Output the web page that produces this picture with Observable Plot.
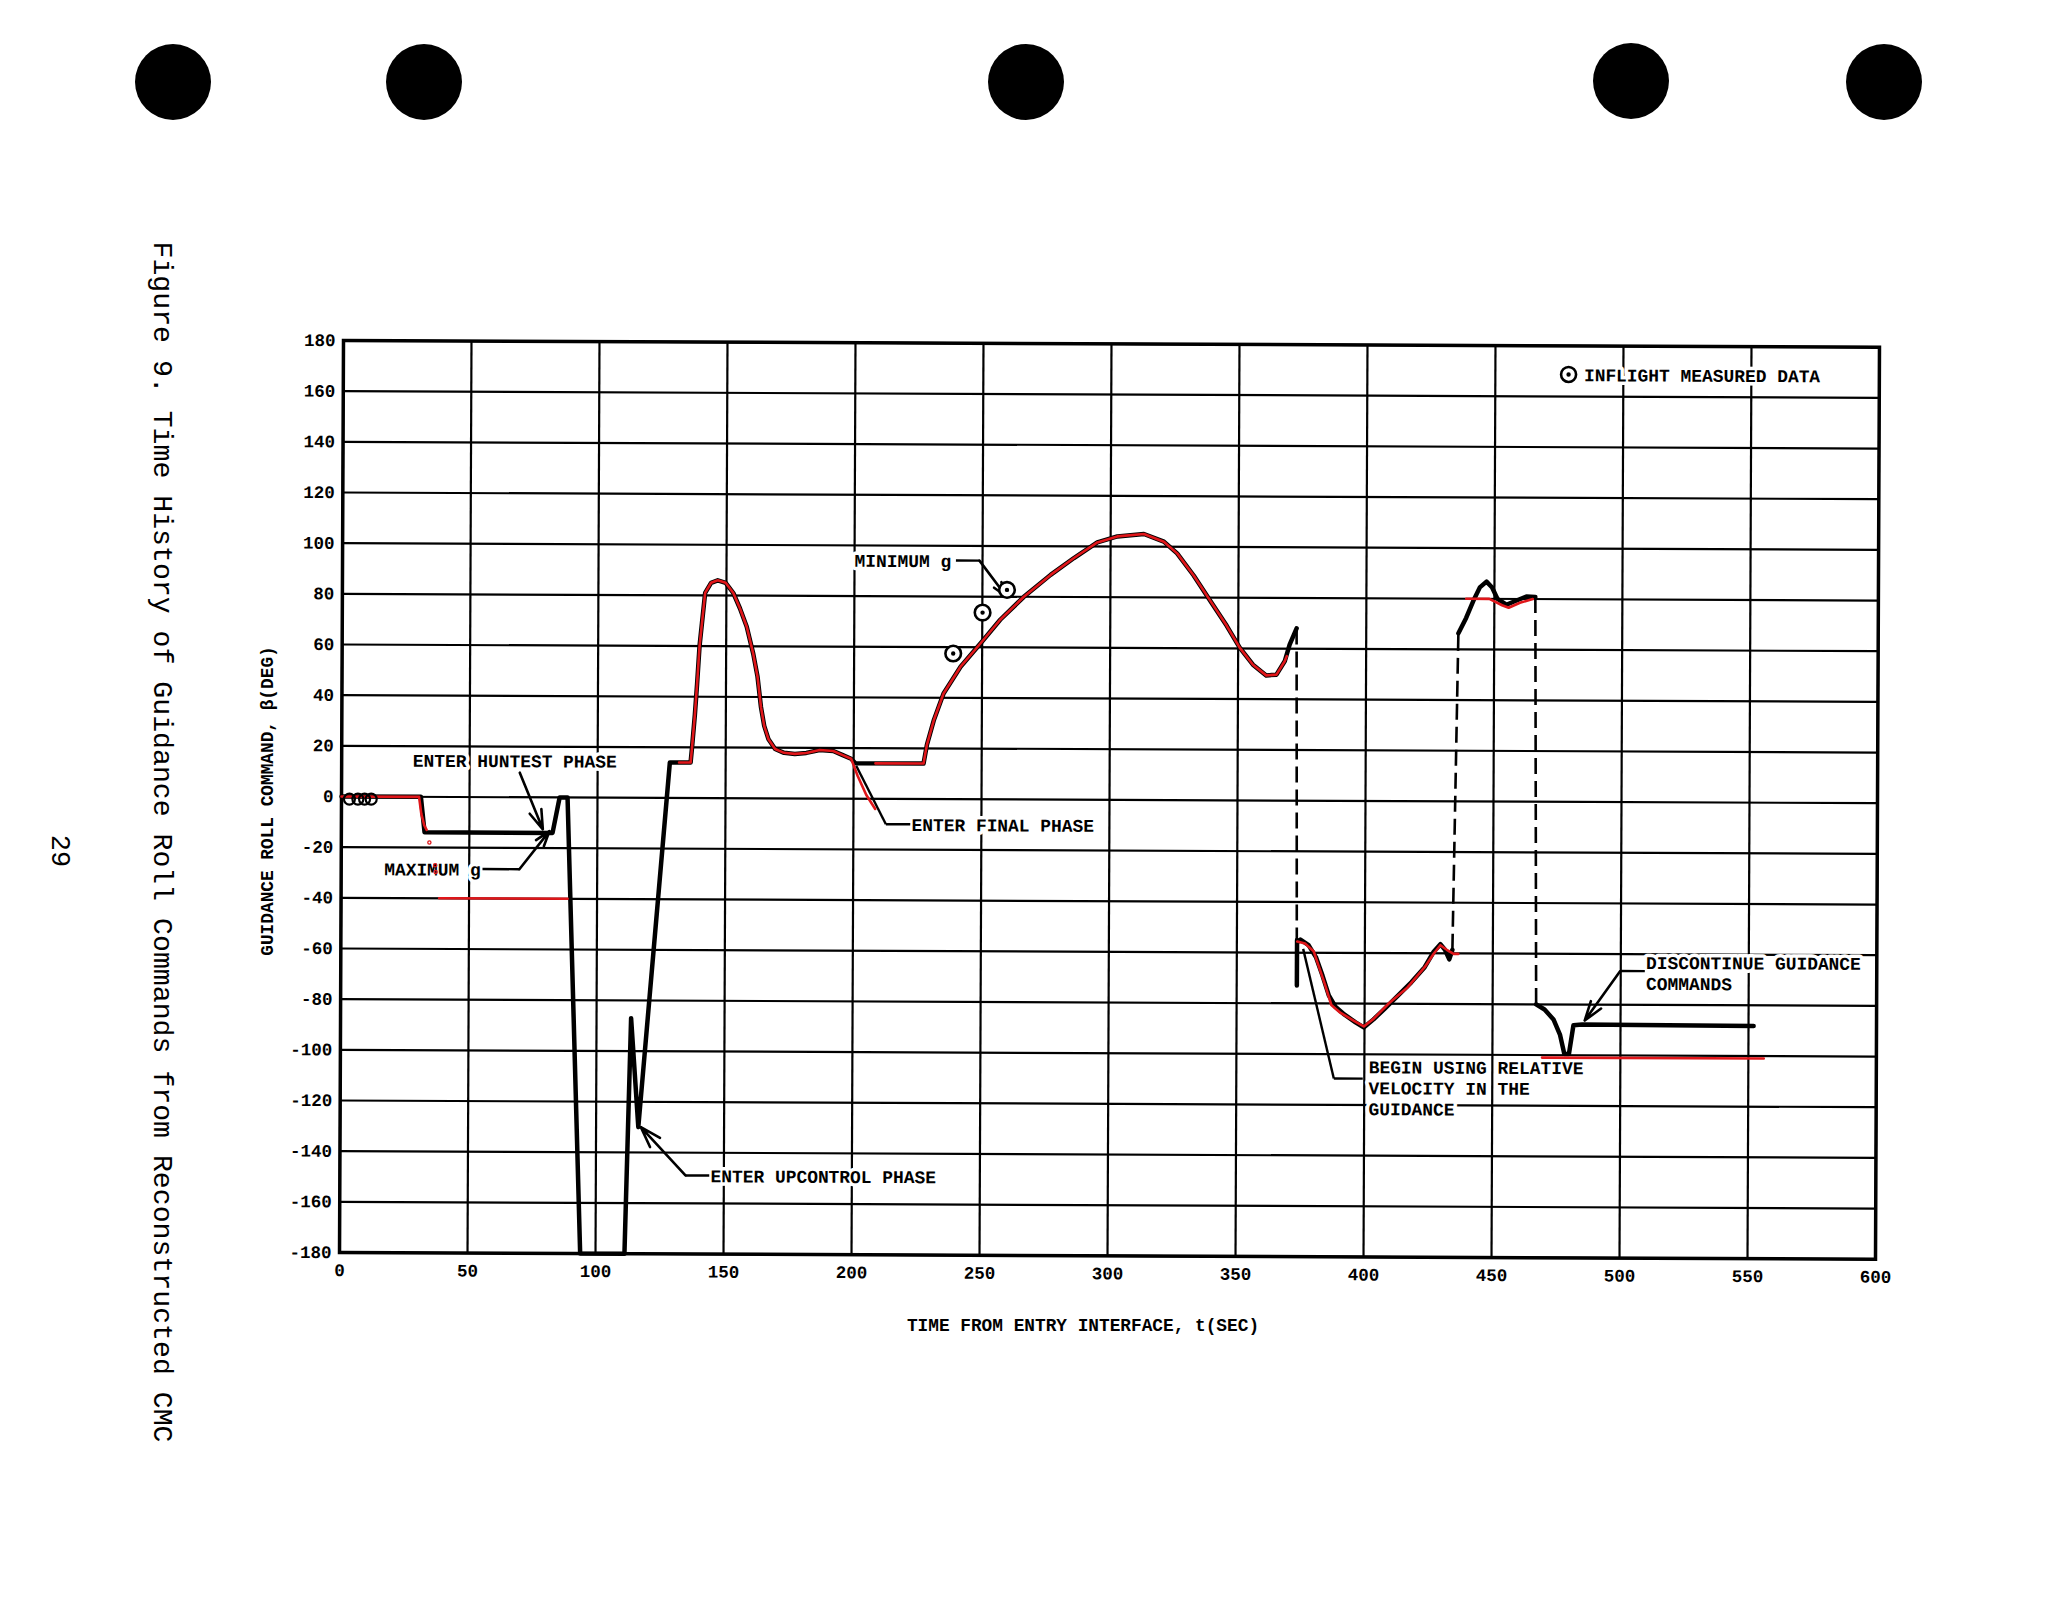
<!DOCTYPE html>
<html>
<head>
<meta charset="utf-8">
<script src="https://cdn.jsdelivr.net/npm/d3@7"></script>
<script src="https://cdn.jsdelivr.net/npm/@observablehq/plot@0.6"></script>
<style>
  html, body { margin: 0; padding: 0; background: #fff; }
  #page { position: relative; width: 2069px; height: 1600px; overflow: hidden; background: #fff;
          font-family: "Liberation Mono", "DejaVu Sans Mono", monospace; color: #000; }
  #page svg { position: absolute; left: 0; top: 0; }
  .hole { position: absolute; width: 76px; height: 76px; border-radius: 50%; background: #000; transform: translate(-50%, -50%); }
  .rot { position: absolute; white-space: nowrap; transform: translate(-50%, -50%) rotate(90deg); }
  .rotl { position: absolute; white-space: nowrap; transform: translate(-50%, -50%) rotate(-90deg); }
  .lbl { position: absolute; white-space: nowrap; transform: translate(-50%, -50%); }
</style>
</head>
<body>
<div id="page"></div>
<script>
// ---------------- data ----------------
const xTicks = [0, 50, 100, 150, 200, 250, 300, 350, 400, 450, 500, 550, 600];
const yTicks = [-180, -160, -140, -120, -100, -80, -60, -40, -20, 0, 20, 40, 60, 80, 100, 120, 140, 160, 180];

// Guidance roll command from reconstructed CMC (black); null separates pieces
const cmcTime = [
  0, 31, 32.5, 82.5, 85.2, 88.3, 94, 111.3, 113.5, 116.5, 128.2, 136.3, 136.8, 137.9, 138.7, 139.6, 140.5, 141.7,
  144, 146.6, 149.7, 152.7, 155.3, 158, 160.6, 162.3, 163.7, 165, 166.7, 169.3, 172.8, 177, 181.5, 186.7, 192,
  195.5, 199, 200.7, 227.3, 228.6, 231.2, 235, 241.6, 249.4, 257, 266.2, 276.6, 285.7, 294.8, 302.6, 313, 320.8,
  326, 332.5, 339, 345.5, 350.6, 355.8, 361, 365, 368.2, 370.1, 372.8,
  null,
  373.5, 373.5,
  null,
  373.6, 374.8, 378, 380.9, 383.5, 386, 388.7, 392.2, 396.5, 399.7, 403.5, 407.8, 413, 418.2, 423.4, 426.9, 429.5,
  431.3, 433, 434.2,
  null,
  436, 439, 441.7, 444.3, 446.9, 449.1, 451.2, 454.7, 458.2, 462.5, 466,
  null,
  467, 470.3, 473.8, 476.4, 478.1, 479.9, 481.6, 485, 552
];
const cmcRoll = [
  0, 0, -14, -14, 0, 0, -180, -180, -87, -130, 14, 14, 19.5, 33, 45, 60, 69, 81,
  85, 86, 85, 81, 75, 67.7, 57, 48, 36, 28.6, 23.3, 19.5, 18, 17.6, 18, 19.2, 18.8,
  17.3, 15.8, 14, 14, 21.5, 31, 41.7, 52.3, 61.6, 70.9, 80, 88.7, 95.4, 101.6, 104, 105, 102,
  97.4, 88.7, 78.8, 68.9, 60.3, 53.6, 49.4, 49.7, 55, 61.6, 68,
  null,
  -55, -73,
  null,
  -56, -54.8, -57, -61.7, -69, -76.8, -81.4, -84.4, -87.4, -89.4, -86.2, -82, -76.8, -71.5, -65.5, -59.4, -56.4,
  -58.6, -62.4, -58.6,
  null,
  66.4, 72.4, 79, 84.5, 86.8, 84.5, 80, 77.7, 79.2, 81, 80.8,
  null,
  -80, -82, -85.9, -92, -99.5, -99.5, -88.2, -87.9, -88.2
];

// dashed jumps between pieces
const jumpFromTime = [372.8, 434.2, 466];
const jumpFromRoll = [68, -58.6, 80.8];
const jumpToTime   = [373.4, 436, 467];
const jumpToRoll   = [-55, 66.4, -80];

// red overlay trace; null separates pieces
const redTime = [
  0, 30.3, 31.2, 32.4, 33.3,
  null,
  38.3, 88.5,
  null,
  131.8, 136.3, 136.8, 137.9, 138.7, 139.6, 140.5, 141.7, 144, 146.6, 149.7, 152.7, 155.3, 158, 160.6, 162.3,
  163.7, 165, 166.7, 169.3, 172.8, 177, 181.5, 186.7, 192, 195.5, 199, 201.6, 205, 208.5,
  null,
  208.5, 227.3, 228.6, 231.2, 235, 241.6, 249.4, 257, 266.2, 276.6, 285.7, 294.8, 302.6, 313, 320.8, 326, 332.5,
  339, 345.5, 350.6, 355.8, 361, 365, 368.2, 369,
  null,
  373.6, 376.6, 380, 381.8, 384.4, 387, 390.5, 395.7, 399.7, 403.5, 409.5, 416.5, 423.4, 426.9, 429.5, 432, 434.7, 436.5,
  null,
  439, 448, 450, 453, 455.6, 460, 465,
  null,
  469.4, 556
];
const redRoll = [
  0, 0, -6.7, -11.3, -13,
  null,
  -40, -40,
  null,
  14, 14, 19.5, 33, 45, 60, 69, 81, 85, 86, 85, 81, 75, 67.7, 57, 48,
  36, 28.6, 23.3, 19.5, 18, 17.6, 18, 19.2, 18.8, 17.3, 15.8, 9, 1.5, -4,
  null,
  14, 14, 21.5, 31, 41.7, 52.3, 61.6, 70.9, 80, 88.7, 95.4, 101.6, 104, 105, 102, 97.4, 88.7,
  78.8, 68.9, 60.3, 53.6, 49.4, 49.7, 55, 57,
  null,
  -55.6, -56.4, -59.4, -64.7, -72.3, -80.6, -83.6, -86.7, -89, -86, -79.8, -73.8, -65.5, -60.2, -56.8, -58.6, -60.2, -60.2,
  null,
  80, 80, 79, 77.5, 76.5, 78.5, 80,
  null,
  -101, -101
];
const redDotTime = [34.4, 36.7, 36.9];
const redDotRoll = [-18, -27, -29.6];

// inflight measured data
const inflightEarlyTime = [3.1, 6.4, 9, 11.6];
const inflightEarlyRoll = [-1, -1, -1, -1];
const inflightTime = [238.7, 250.1, 259.6];
const inflightRoll = [57.5, 73.7, 82.7];

// annotation texts
const noteText = [
  "ENTER HUNTEST PHASE", "MAXIMUM g", "ENTER UPCONTROL PHASE", "ENTER FINAL PHASE", "MINIMUM g",
  "BEGIN USING RELATIVE\nVELOCITY IN THE\nGUIDANCE", "DISCONTINUE GUIDANCE\nCOMMANDS", "INFLIGHT MEASURED DATA"
];
const noteTime = [27.8, 16.8, 144.8, 222.7, 200, 401.7, 509.9, 484.6];
const noteRoll = [14.5, -28.4, -149, -10, 94.2, -113.1, -67.3, 168.7];
const legendSymbolTime = [478.6];
const legendSymbolRoll = [168.7];

// leader lines (plain) and arrows
const leaderX1 = [55.2, 135, 212.7, 212.7, 239.6, 388.1, 388.1, 499.8];
const leaderY1 = [-28.4, -149, -10, -10, 94.2, -109.6, -109.6, -66.7];
const leaderX2 = [69.6, 144.3, 222.2, 201, 248.8, 399.4, 375.9, 509.4];
const leaderY2 = [-28.4, -149, -10, 13, 94.2, -109.6, -58.5, -66.7];
const arrowX1 = [69.6, 69.6, 135, 248.8, 499.8];
const arrowY1 = [9.7, -28.4, -149, 94.2, -66.7];
const arrowX2 = [78.7, 81.3, 117.5, 259.3, 486];
const arrowY2 = [-12.6, -13.3, -130, 80.2, -86.3];

// ---------------- build ----------------
const toRows = (ts, vs) => ts.map((t, i) => ({t: t == null ? NaN : t, v: vs[i] == null ? NaN : vs[i]}));
const cmcRows = toRows(cmcTime, cmcRoll);
const redRows = toRows(redTime, redRoll);
const redDots = toRows(redDotTime, redDotRoll);
const jumps = jumpFromTime.map((t, i) => ({x1: t, y1: jumpFromRoll[i], x2: jumpToTime[i], y2: jumpToRoll[i]}));
const early = toRows(inflightEarlyTime, inflightEarlyRoll);
const inflight = toRows(inflightTime, inflightRoll);
const notes = noteText.map((s, i) => ({text: s, t: noteTime[i], v: noteRoll[i]}));
const legendSym = toRows(legendSymbolTime, legendSymbolRoll);
const leaders = leaderX1.map((x, i) => ({x1: x, y1: leaderY1[i], x2: leaderX2[i], y2: leaderY2[i]}));
const arrows = arrowX1.map((x, i) => ({x1: x, y1: arrowY1[i], x2: arrowX2[i], y2: arrowY2[i]}));

const FONT = "'Liberation Mono', 'DejaVu Sans Mono', monospace";
const RED = "#e0161a";

const chart = Plot.plot({
  width: 2069,
  height: 1600,
  marginLeft: 343,
  marginRight: 190,
  marginTop: 340,
  marginBottom: 348,
  style: {fontFamily: FONT, fontSize: "17.5px", background: "transparent", color: "#000", overflow: "visible"},
  x: {domain: [0, 600], label: null},
  y: {domain: [-180, 180], label: null},
  marks: [
    Plot.gridX(xTicks, {stroke: "#000", strokeOpacity: 1, strokeWidth: 2.2}),
    Plot.gridY(yTicks, {stroke: "#000", strokeOpacity: 1, strokeWidth: 2.2}),
    Plot.axisX(xTicks, {tickSize: 0, tickPadding: 11, label: null, tickFormat: d => String(d), fontSize: 17.5, fontWeight: "bold"}),
    Plot.axisY(yTicks, {tickSize: 0, tickPadding: 8, label: null, tickFormat: d => String(d), fontSize: 17.5, fontWeight: "bold"}),
    Plot.frame({stroke: "#000", strokeWidth: 3.5}),
    // annotation texts with white knock-out behind them
    Plot.text(notes, {x: "t", y: "v", text: "text", textAnchor: "start", fontSize: 17.9, fontWeight: "bold",
      lineHeight: 1.17, fill: "#000", stroke: "#fff", strokeWidth: 7, fontFamily: FONT}),
    Plot.link(leaders, {x1: "x1", y1: "y1", x2: "x2", y2: "y2", stroke: "#000", strokeWidth: 2.4}),
    Plot.arrow(arrows, {x1: "x1", y1: "y1", x2: "x2", y2: "y2", stroke: "#000", strokeWidth: 2.6,
      headLength: 14, headAngle: 36}),
    Plot.link(jumps, {x1: "x1", y1: "y1", x2: "x2", y2: "y2", stroke: "#000", strokeWidth: 2.6,
      strokeDasharray: "16,7"}),
    Plot.line(cmcRows, {x: "t", y: "v", stroke: "#000", strokeWidth: 4.5, strokeLinejoin: "round"}),
    Plot.line(redRows, {x: "t", y: "v", stroke: RED, strokeWidth: 2.6, strokeLinejoin: "round"}),
    Plot.dot(redDots, {x: "t", y: "v", r: 1.6, stroke: RED, strokeWidth: 1.3, fill: "none"}),
    Plot.dot(early, {x: "t", y: "v", r: 5.5, stroke: "#000", strokeWidth: 2.2, fill: "none"}),
    Plot.dot(inflight, {x: "t", y: "v", r: 7.8, stroke: "#000", strokeWidth: 2.6, fill: "#fff"}),
    Plot.dot(inflight, {x: "t", y: "v", r: 2.2, fill: "#000"}),
    Plot.dot(legendSym, {x: "t", y: "v", r: 7.5, stroke: "#000", strokeWidth: 2.6, fill: "#fff"}),
    Plot.dot(legendSym, {x: "t", y: "v", r: 2.2, fill: "#000"})
  ]
});

// the scanned sheet sits very slightly rotated
chart.style.transformOrigin = "343px 340px";
chart.style.transform = "rotate(0.25deg)";

const page = document.getElementById("page");
page.appendChild(chart);

// punched holes of the scanned page
const holes = [[173, 82], [424, 82], [1026, 82], [1631, 81], [1884, 82]];
for (const [hx, hy] of holes) {
  const d = document.createElement("div");
  d.className = "hole";
  d.style.left = hx + "px";
  d.style.top = hy + "px";
  page.appendChild(d);
}

function addText(cls, txt, x, y, size, weight) {
  const d = document.createElement("div");
  d.className = cls;
  d.textContent = txt;
  d.style.left = x + "px";
  d.style.top = y + "px";
  d.style.fontSize = size + "px";
  d.style.fontWeight = weight || "normal";
  page.appendChild(d);
}
addText("rot", "Figure 9.  Time History of Guidance Roll Commands from Reconstructed CMC", 161, 842, 28.2);
addText("rot", "29", 59, 851, 27);
addText("rotl", "GUIDANCE ROLL COMMAND, β(DEG)", 268, 801, 17.8, "bold");
addText("lbl", "TIME FROM ENTRY INTERFACE, t(SEC)", 1083, 1326, 17.8, "bold");
</script>
</body>
</html>
